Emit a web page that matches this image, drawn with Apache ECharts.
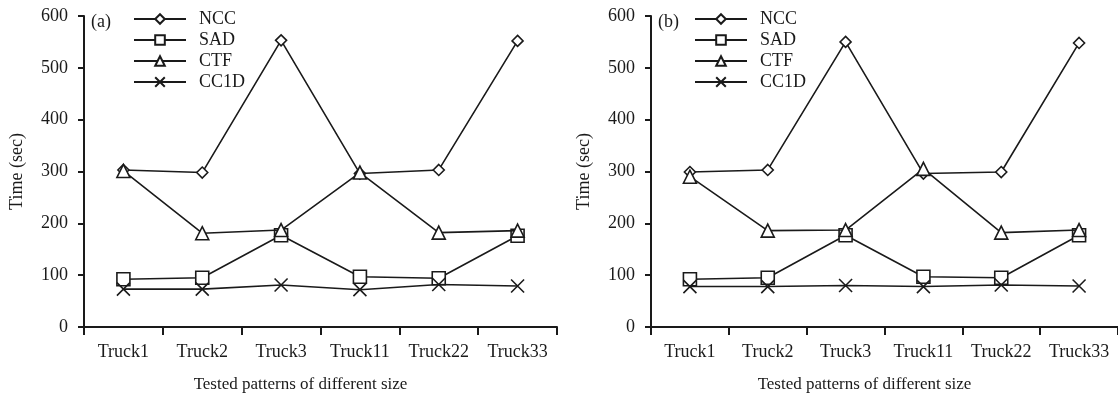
<!DOCTYPE html>
<html>
<head>
<meta charset="utf-8">
<script src="https://cdn.jsdelivr.net/npm/echarts@6/dist/echarts.min.js"></script>
<style>
html,body{margin:0;padding:0;background:#fff;}
#c{width:1118px;height:398px;}
</style>
</head>
<body>
<div id="c"></div>
<script>
var categories = ['Truck1', 'Truck2', 'Truck3', 'Truck11', 'Truck22', 'Truck33'];
var seriesNames = ['NCC', 'SAD', 'CTF', 'CC1D'];
var yTicks = [0, 100, 200, 300, 400, 500, 600];
var panelLabels = ['(a)', '(b)'];

// Panel (a)
var nccA  = [303, 298, 553, 296, 303, 552];
var sadA  = [92, 95, 177, 97, 94, 176];
var ctfA  = [301, 181, 187, 298, 182, 186];
var cc1dA = [73, 73, 81, 72, 82, 79];

// Panel (b)
var nccB  = [299, 303, 550, 296, 299, 548];
var sadB  = [92, 95, 177, 97, 95, 177];
var ctfB  = [290, 186, 187, 305, 182, 187];
var cc1dB = [78, 78, 80, 78, 81, 79];

var FONT = '"Liberation Serif", "Times New Roman", serif';
var INK = '#1a1a1a';
var crossPath = 'path://M0,0L10,10M10,0L0,10';
var symbols = ['diamond', 'rect', 'triangle', crossPath];
var symbolSizes = [11, 13, 13, 13];

var chart = echarts.init(document.getElementById('c'), null, {renderer: 'canvas'});

function xAxis(idx) {
  return {
    type: 'category', gridIndex: idx, data: categories, boundaryGap: true,
    name: 'Tested patterns of different size', nameLocation: 'middle', nameGap: 49,
    nameTextStyle: {fontFamily: FONT, fontSize: 17, color: INK, padding: [0, 40, 0, 0]},
    axisLine: {lineStyle: {color: INK, width: 2}},
    axisTick: {show: true, length: 8, lineStyle: {color: INK, width: 2}, alignWithLabel: false},
    axisLabel: {fontFamily: FONT, fontSize: 18, color: INK, margin: 16, interval: 0},
    splitLine: {show: false}
  };
}
function yAxis(idx) {
  return {
    type: 'value', gridIndex: idx, min: yTicks[0], max: yTicks[yTicks.length - 1], interval: 100,
    name: 'Time (sec)', nameLocation: 'middle', nameGap: 58, nameRotate: 90,
    nameTextStyle: {fontFamily: FONT, fontSize: 18, color: INK},
    axisLine: {show: true, lineStyle: {color: INK, width: 2}},
    axisTick: {show: true, length: 6, lineStyle: {color: INK, width: 2}},
    axisLabel: {fontFamily: FONT, fontSize: 18, color: INK, margin: 16},
    splitLine: {show: false}
  };
}
function makeSeries(idx, arrays) {
  return arrays.map(function (arr, i) {
    return {
      name: seriesNames[i], type: 'line', xAxisIndex: idx, yAxisIndex: idx,
      data: arr, symbol: symbols[i], symbolSize: symbolSizes[i], showAllSymbol: true,
      lineStyle: {color: INK, width: 1.6},
      itemStyle: {color: '#fff', borderColor: INK, borderWidth: 1.6},
      emphasis: {disabled: true},
      animation: false, z: 2 + i
    };
  });
}
function legend(idx, left) {
  return {
    data: seriesNames.slice(),
    orient: 'vertical', left: left, top: 5,
    itemWidth: 52, itemHeight: 12, itemGap: 3,
    textStyle: {fontFamily: FONT, fontSize: 18, color: INK, lineHeight: 18, padding: [0, 0, 0, 8]},
    selectedMode: false
  };
}

var option = {
  backgroundColor: '#fff',
  animation: false,
  grid: [
    {left: 84, top: 16, width: 473, height: 311, containLabel: false},
    {left: 651, top: 16, width: 473, height: 311, containLabel: false}
  ],
  xAxis: [xAxis(0), xAxis(1)],
  yAxis: [yAxis(0), yAxis(1)],
  legend: [legend(0, 128), legend(1, 689)],
  graphic: [
    {type: 'text', left: 91, top: 13, style: {text: panelLabels[0], font: '18px ' + FONT, fill: INK}},
    {type: 'text', left: 658, top: 13, style: {text: panelLabels[1], font: '18px ' + FONT, fill: INK}}
  ],
  series: makeSeries(0, [nccA, sadA, ctfA, cc1dA]).concat(makeSeries(1, [nccB, sadB, ctfB, cc1dB]))
};
chart.setOption(option);
</script>
</body>
</html>
